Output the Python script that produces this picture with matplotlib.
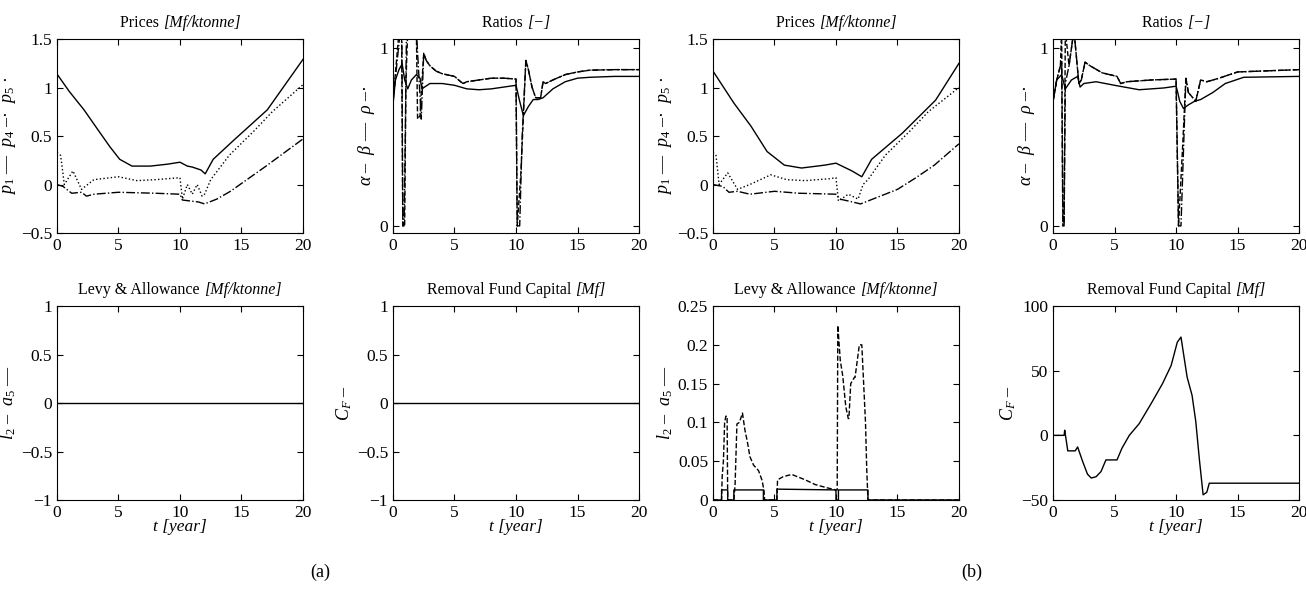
import matplotlib
matplotlib.use("Agg")
import matplotlib.pyplot as plt

plt.rcParams['font.family'] = ['Liberation Serif', 'DejaVu Serif']
plt.rcParams['mathtext.fontset'] = 'custom'
plt.rcParams['mathtext.rm'] = 'Liberation Serif'
plt.rcParams['mathtext.it'] = 'Liberation Serif:italic'
plt.rcParams['mathtext.bf'] = 'Liberation Serif:bold'

# ---------------- data (a) ----------------
t_p1_a = [0, 1, 2.2, 3.3, 4.3, 5.1, 6.1, 7.6, 9, 10, 10.6, 11, 11.7, 12.05, 12.7, 14.4, 17.1, 20]
p1_a = [1.14, 0.96, 0.77, 0.57, 0.39, 0.26, 0.19, 0.19, 0.21, 0.23, 0.19, 0.18, 0.15, 0.11, 0.26, 0.46, 0.77, 1.29]
t_p4_a = [0, 0.5, 1.2, 2, 2.4, 3, 5, 8, 10, 10.2, 11.5, 12, 13, 14.1, 17, 20]
p4_a = [0, -0.02, -0.09, -0.08, -0.12, -0.1, -0.08, -0.09, -0.1, -0.16, -0.18, -0.2, -0.15, -0.07, 0.19, 0.47]
t_p5_a = [0, 0.3, 0.6, 1.3, 2, 3, 5, 6.5, 8, 10, 10.2, 10.6, 11, 11.4, 11.8, 12, 12.5, 14, 16, 17.5, 20]
p5_a = [0.33, 0.3, 0.0, 0.14, -0.05, 0.05, 0.08, 0.04, 0.05, 0.07, -0.15, 0.0, -0.1, 0.0, -0.12, -0.1, 0.05, 0.3, 0.55, 0.75, 1.03]

t_al_a = [0, 0.2, 0.5, 0.75, 0.95, 1.2, 1.5, 1.9, 2.2, 2.35, 3, 4, 5, 6, 7, 8, 9, 10, 10.1, 10.3, 10.6, 11, 11.4, 11.8, 12.2, 13, 14, 15, 16, 18, 20]
alpha_a = [0.68, 0.82, 0.88, 0.91, 0.82, 0.77, 0.82, 0.85, 0.83, 0.77, 0.8, 0.8, 0.79, 0.77, 0.765, 0.77, 0.78, 0.79, 0.76, 0.70, 0.62, 0.67, 0.71, 0.71, 0.72, 0.77, 0.81, 0.83, 0.835, 0.84, 0.84]
t_rho_a = [0, 0.6, 0.72, 0.8, 0.9, 1.0, 1.1, 1.3, 1.6, 1.9, 2.1, 2.3, 2.5, 2.7, 3.0, 3.5, 4, 5, 5.5, 5.7, 6, 7, 8, 9, 10, 10.1, 10.3, 10.5, 10.8, 11.0, 11.3, 11.6, 12.0, 12.2, 12.4, 13, 14, 15, 16, 18, 20]
rho_a = [0.7, 1.1, 1.1, 0.0, 0.0, 0.5, 1.1, 1.1, 1.1, 1.1, 0.85, 0.6, 0.97, 0.93, 0.9, 0.87, 0.855, 0.84, 0.81, 0.8, 0.81, 0.82, 0.83, 0.83, 0.825, 0.0, 0.0, 0.5, 0.93, 0.88, 0.78, 0.72, 0.72, 0.81, 0.8, 0.82, 0.85, 0.865, 0.875, 0.878, 0.878]
t_be_a = [0, 0.5, 0.7, 0.8, 0.95, 1.05, 1.2, 1.6, 1.9, 2.0, 2.2, 2.3, 2.5, 2.7, 3.0, 3.5, 4, 5, 5.5, 5.7, 6, 7, 8, 9, 10, 10.1, 10.4, 10.8, 11.0, 11.3, 11.6, 12.0, 12.2, 12.4, 13, 14, 15, 16, 18, 20]
beta_a = [0.7, 1.1, 1.1, 0.0, 0.0, 0.8, 1.1, 1.1, 1.1, 0.6, 0.62, 0.75, 0.97, 0.93, 0.9, 0.87, 0.855, 0.84, 0.81, 0.8, 0.81, 0.82, 0.83, 0.83, 0.825, 0.0, 0.3, 0.93, 0.88, 0.78, 0.72, 0.72, 0.81, 0.8, 0.82, 0.85, 0.865, 0.875, 0.878, 0.878]

t_zero = [0, 20]
zero = [0, 0]

# ---------------- data (b) ----------------
t_p1_b = [0, 1.7, 3.1, 4.4, 5.8, 7.2, 9.1, 10, 11.3, 12.1, 12.9, 15.4, 18.1, 20]
p1_b = [1.17, 0.84, 0.6, 0.34, 0.2, 0.17, 0.2, 0.22, 0.14, 0.08, 0.26, 0.53, 0.87, 1.25]
t_p4_b = [0, 0.8, 1.3, 2, 3, 5, 7, 10, 10.3, 11, 12, 13, 15, 16.5, 18, 20]
p4_b = [0, -0.02, -0.08, -0.07, -0.1, -0.07, -0.09, -0.1, -0.15, -0.17, -0.2, -0.15, -0.05, 0.07, 0.2, 0.42]
t_p5_b = [0, 0.25, 0.5, 1.2, 2, 3, 4.7, 6, 7.5, 9.5, 10, 10.2, 11, 11.8, 12.2, 12.6, 14, 16, 17.5, 20]
p5_b = [0.33, 0.3, 0.0, 0.12, -0.05, 0.0, 0.1, 0.05, 0.04, 0.06, 0.07, -0.17, -0.1, -0.15, 0.0, 0.05, 0.3, 0.55, 0.75, 1.0]

t_al_b = [0, 0.3, 0.7, 1.0, 1.5, 2.0, 2.2, 2.5, 3.5, 5, 7, 9, 10, 10.1, 10.3, 10.6, 11, 11.5, 12, 13, 14, 15.5, 20]
alpha_b = [0.7, 0.82, 0.85, 0.77, 0.82, 0.84, 0.78, 0.8, 0.81, 0.79, 0.765, 0.775, 0.785, 0.76, 0.7, 0.66, 0.68, 0.7, 0.71, 0.75, 0.8, 0.835, 0.84]
t_rho_b = [0, 0.3, 0.6, 0.7, 0.8, 0.9, 1.0, 1.3, 1.7, 2.1, 2.3, 2.6, 3, 4, 5.2, 5.5, 6, 8, 10, 10.2, 10.4, 10.8, 11.0, 11.6, 12.0, 12.5, 13.5, 15, 20]
rho_b = [0.7, 0.82, 0.9, 0.92, 0.0, 0.0, 0.8, 0.9, 1.1, 0.8, 0.82, 0.92, 0.9, 0.86, 0.84, 0.8, 0.81, 0.82, 0.825, 0.0, 0.0, 0.83, 0.75, 0.7, 0.82, 0.81, 0.83, 0.865, 0.878]
t_be_b = [0, 0.3, 0.6, 0.7, 0.8, 0.9, 1.0, 1.3, 1.7, 2.1, 2.3, 2.6, 3, 4, 5.2, 5.5, 6, 8, 10, 10.2, 10.5, 10.8, 11.0, 11.6, 12.0, 12.5, 13.5, 15, 20]
beta_b = [0.7, 0.82, 0.9, 1.1, 0.0, 0.0, 1.1, 0.9, 1.1, 0.8, 0.82, 0.92, 0.9, 0.86, 0.84, 0.8, 0.81, 0.82, 0.825, 0.0, 0.4, 0.83, 0.75, 0.7, 0.82, 0.81, 0.83, 0.865, 0.878]

t_l2_b = [0, 0.7, 0.7, 1.2, 1.2, 1.7, 1.7, 4.1, 4.1, 5.2, 5.2, 10.0, 10.0, 10.2, 10.2, 12.6, 12.6, 20]
l2_b = [0, 0, 0.013, 0.013, 0, 0, 0.013, 0.013, 0, 0, 0.014, 0.013, 0, 0, 0.013, 0.013, 0, 0]
t_a5_b = [0, 0.7, 0.75, 0.85, 0.95, 1.05, 1.15, 1.2, 1.7, 1.8, 1.95, 2.15, 2.4, 2.6, 2.8, 3.0, 3.3, 3.7, 4.0, 4.15, 4.2, 5.2, 5.25, 5.7, 6.4, 7.5, 8.3, 9.2, 10.0, 10.1, 10.15, 10.35, 10.55, 10.8, 11.0, 11.05, 11.2, 11.5, 11.55, 11.9, 12.1, 12.4, 12.5, 12.6, 20]
a5_b = [0, 0, 0.03, 0.05, 0.1, 0.108, 0.108, 0, 0, 0.02, 0.098, 0.1, 0.112, 0.09, 0.075, 0.056, 0.045, 0.038, 0.025, 0.012, 0, 0, 0.026, 0.03, 0.033, 0.026, 0.02, 0.016, 0.013, 0.013, 0.225, 0.18, 0.16, 0.12, 0.105, 0.105, 0.15, 0.158, 0.158, 0.2, 0.2, 0.1, 0.04, 0, 0]

t_cf_b = [0, 0.9, 0.95, 1.2, 1.8, 2.0, 2.4, 2.8, 3.1, 3.5, 3.9, 4.3, 5.2, 5.6, 6.2, 7, 8, 8.9, 9.6, 10.1, 10.4, 10.9, 11.3, 11.6, 11.9, 12.2, 12.5, 12.7, 20]
cf_b = [0, 0, 4, -12, -12, -9, -20, -30, -33, -32, -28, -19, -19, -10, 0, 9, 25, 40, 54, 72, 76, 45, 31, 11, -19, -46, -44, -37, -37]

xticks = [0, 5, 10, 15, 20]

fig = plt.figure(figsize=(13.06, 6.06), dpi=100)
renderer = fig.canvas.get_renderer()

lefts = [0.0436, 0.3009, 0.5459, 0.8063]
w, h = 0.1884, 0.3201
top_b, bot_b = 0.6155, 0.1749


def split_title(ax, plain, italic, size=11.5):
    # plain part upright, unit part italic, the pair centred over the axes
    y = 1.0 + 8 / (h * 606)
    a = ax.text(0.5, y, plain + ' ', transform=ax.transAxes, fontsize=size,
                ha='left', va='bottom')
    b = ax.text(0.5, y, italic, transform=ax.transAxes, fontsize=size,
                ha='left', va='bottom', style='italic')
    wa = a.get_window_extent(renderer).width
    wb = b.get_window_extent(renderer).width
    axw = ax.get_window_extent(renderer).width
    x0 = 0.5 - (wa + wb) / 2 / axw
    a.set_x(x0)
    b.set_x(x0 + wa / axw)


def style(ax, ylim, yticks, ylabels, title, ylabel, xlabel=False):
    ax.set_xlim(0, 20)
    ax.set_ylim(*ylim)
    ax.set_xticks(xticks)
    ax.set_xticklabels([str(x) for x in xticks])
    ax.set_yticks(yticks)
    ax.set_yticklabels(ylabels)
    ax.tick_params(direction='in', top=True, right=True, length=4, width=0.8, labelsize=12.5)
    split_title(ax, *title)
    ax.set_ylabel(ylabel, fontsize=13, labelpad=2)
    if xlabel:
        ax.set_xlabel('t [year]', fontsize=12.5, style='italic', labelpad=-1)
    for s in ax.spines.values():
        s.set_linewidth(0.8)


price_ticks = [-0.5, 0, 0.5, 1, 1.5]
price_labels = ['\u22120.5', '0', '0.5', '1', '1.5']
one_ticks = [-1, -0.5, 0, 0.5, 1]
one_labels = ['\u22121', '\u22120.5', '0', '0.5', '1']
price_title = ('Prices', '[Mf/ktonne]')
ratio_title = ('Ratios', '[\u2212]')
levy_title = ('Levy & Allowance', '[Mf/ktonne]')
fund_title = ('Removal Fund Capital', '[Mf]')
price_ylabel = '$p_1$ \u2014  $p_4$ \u2013\u00b7  $p_5$ \u00b7'
ratio_ylabel = '$\\alpha$ \u2013  $\\beta$ \u2014  $\\rho$ \u2013\u00b7'
levy_ylabel = '$l_2$ \u2013  $a_5$ \u2014'
fund_ylabel = '$C_F$ \u2013'

lw = 1.0

# ---- (a) ----
ax = fig.add_axes([lefts[0], top_b, w, h])
ax.plot(t_p1_a, p1_a, 'k-', lw=lw)
ax.plot(t_p4_a, p4_a, 'k-.', lw=lw)
ax.plot(t_p5_a, p5_a, 'k:', lw=lw)
style(ax, (-0.5, 1.5), price_ticks, price_labels, price_title, price_ylabel)

ax = fig.add_axes([lefts[1], top_b, w, h])
ax.plot(t_al_a, alpha_a, 'k-', lw=lw)
ax.plot(t_be_a, beta_a, 'k--', lw=lw)
ax.plot(t_rho_a, rho_a, 'k-.', lw=lw)
style(ax, (-0.04, 1.05), [0, 1], ['0', '1'], ratio_title, ratio_ylabel)

ax = fig.add_axes([lefts[0], bot_b, w, h])
ax.plot(t_zero, zero, 'k-', lw=lw)
style(ax, (-1, 1), one_ticks, one_labels, levy_title, levy_ylabel, xlabel=True)

ax = fig.add_axes([lefts[1], bot_b, w, h])
ax.plot(t_zero, zero, 'k-', lw=lw)
style(ax, (-1, 1), one_ticks, one_labels, fund_title, fund_ylabel, xlabel=True)

# ---- (b) ----
ax = fig.add_axes([lefts[2], top_b, w, h])
ax.plot(t_p1_b, p1_b, 'k-', lw=lw)
ax.plot(t_p4_b, p4_b, 'k-.', lw=lw)
ax.plot(t_p5_b, p5_b, 'k:', lw=lw)
style(ax, (-0.5, 1.5), price_ticks, price_labels, price_title, price_ylabel)

ax = fig.add_axes([lefts[3], top_b, w, h])
ax.plot(t_al_b, alpha_b, 'k-', lw=lw)
ax.plot(t_be_b, beta_b, 'k--', lw=lw)
ax.plot(t_rho_b, rho_b, 'k-.', lw=lw)
style(ax, (-0.04, 1.05), [0, 1], ['0', '1'], ratio_title, ratio_ylabel)

ax = fig.add_axes([lefts[2], bot_b, w, h])
ax.plot(t_l2_b, l2_b, 'k-', lw=lw)
ax.plot(t_a5_b, a5_b, 'k--', lw=lw)
style(ax, (0, 0.25), [0, 0.05, 0.1, 0.15, 0.2, 0.25],
      ['0', '0.05', '0.1', '0.15', '0.2', '0.25'], levy_title, levy_ylabel, xlabel=True)

ax = fig.add_axes([lefts[3], bot_b, w, h])
ax.plot(t_cf_b, cf_b, 'k-', lw=lw)
style(ax, (-50, 100), [-50, 0, 50, 100], ['\u221250', '0', '50', '100'],
      fund_title, fund_ylabel, xlabel=True)

fig.text(320 / 1306, 1 - 572 / 606, '(a)', ha='center', va='center', fontsize=13)
fig.text(972 / 1306, 1 - 572 / 606, '(b)', ha='center', va='center', fontsize=13)

fig.savefig('out.png', dpi=100)
